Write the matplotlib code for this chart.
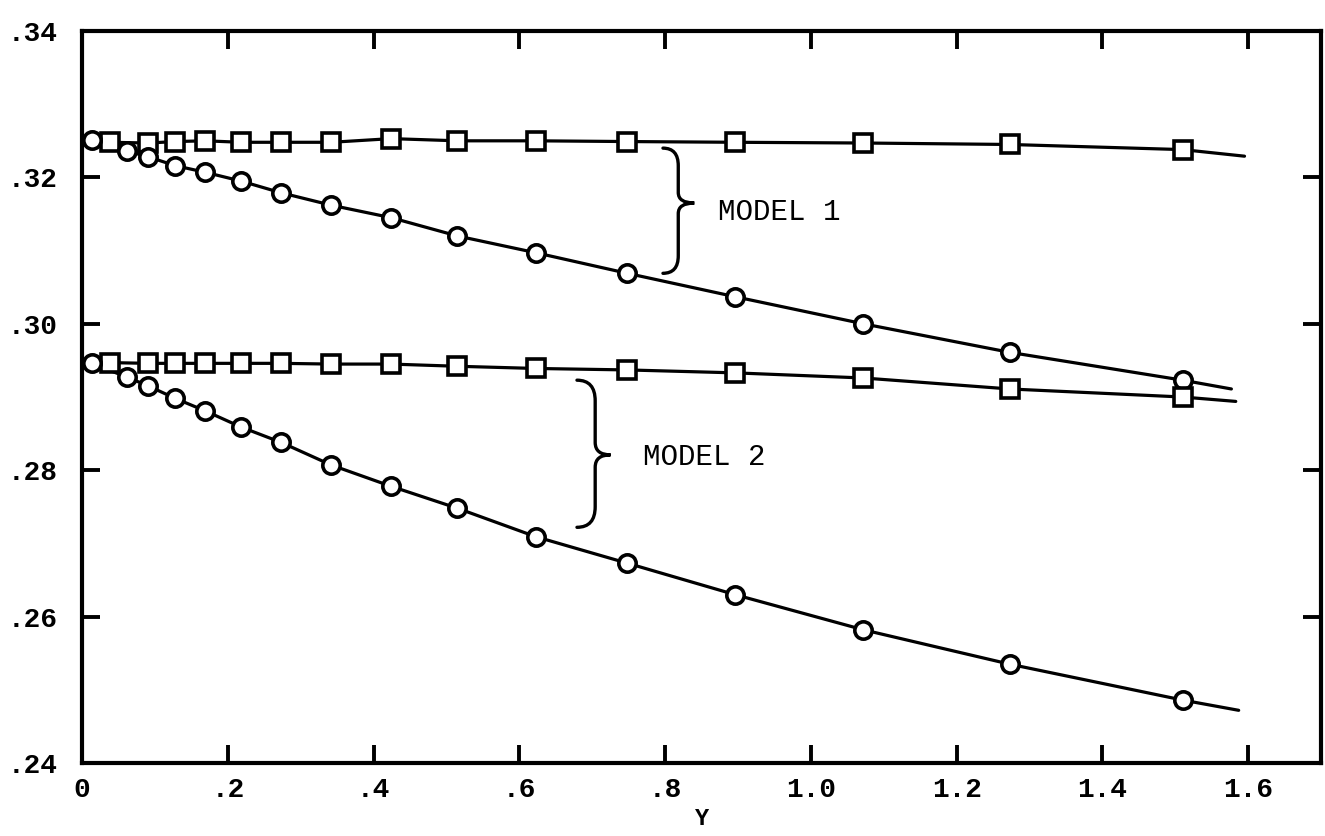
import matplotlib.pyplot as plt
from matplotlib.path import Path
from matplotlib.patches import PathPatch

# model 1
m1_circ_x = [0.013, 0.062, 0.091, 0.128, 0.169, 0.218, 0.273, 0.342, 0.424,
             0.515, 0.623, 0.748, 0.896, 1.072, 1.273, 1.510]
m1_circ = [.3251, .3236, .3228, .3216, .3207, .3195, .3179, .3162, .3145,
           .3120, .3097, .3069, .3037, .3000, .2961, .2923]
m1_circ_end = (1.577, .2911)

m1_sq_x = [0.038, 0.091, 0.128, 0.169, 0.218, 0.273, 0.342, 0.424, 0.515,
           0.623, 0.748, 0.896, 1.072, 1.273, 1.510]
m1_sq = [.3248, .3247, .3249, .3250, .3248, .3248, .3248, .3253, .3250,
         .3250, .3249, .3248, .3247, .3245, .3238]
m1_sq_end = (1.595, .3229)

# model 2
m2_circ_x = m1_circ_x
m2_circ = [.2946, .2927, .2915, .2898, .2881, .2859, .2838, .2807, .2778,
           .2748, .2709, .2673, .2630, .2582, .2535, .2486]
m2_circ_end = (1.587, .2472)

m2_sq_x = m1_sq_x
m2_sq = [.2947, .2946, .2946, .2946, .2946, .2946, .2945, .2945, .2942,
         .2939, .2937, .2933, .2926, .2911, .2900]
m2_sq_end = (1.583, .2894)

xticks = [0, .2, .4, .6, .8, 1.0, 1.2, 1.4, 1.6]
xtick_labels = ["0", ".2", ".4", ".6", ".8", "1.0", "1.2", "1.4", "1.6"]
yticks = [.24, .26, .28, .30, .32, .34]
ytick_labels = [".24", ".26", ".28", ".30", ".32", ".34"]

FONT = "Liberation Mono"

fig = plt.figure(figsize=(13.25, 8.36), dpi=100)
ax = fig.add_axes([0.062, 0.0873, 0.935, 0.8756])


def curve(xs, ys, end, marker, ms):
    ax.plot(list(xs) + [end[0]], list(ys) + [end[1]], color="black", lw=2.3,
            zorder=2, solid_capstyle="round")
    ax.plot(xs, ys, ls="none", marker=marker, ms=ms, mfc="white",
            mec="black", mew=2.6, zorder=3)


curve(m1_sq_x, m1_sq, m1_sq_end, "s", 12.5)
curve(m1_circ_x, m1_circ, m1_circ_end, "o", 12.5)
curve(m2_sq_x, m2_sq, m2_sq_end, "s", 12.5)
curve(m2_circ_x, m2_circ, m2_circ_end, "o", 12.5)


def brace(x_left, x_mid, x_tip, y_top, y_tip, y_bot):
    d = (y_top - y_bot) * 0.14
    verts = [(x_left, y_top), (x_mid, y_top), (x_mid, y_top - d),
             (x_mid, y_tip + d * 0.6), (x_mid, y_tip), (x_tip, y_tip),
             (x_mid, y_tip), (x_mid, y_tip - d * 0.6),
             (x_mid, y_bot + d), (x_mid, y_bot), (x_left, y_bot)]
    codes = [Path.MOVETO, Path.CURVE3, Path.CURVE3,
             Path.LINETO, Path.CURVE3, Path.CURVE3,
             Path.CURVE3, Path.CURVE3,
             Path.LINETO, Path.CURVE3, Path.CURVE3]
    ax.add_patch(PathPatch(Path(verts, codes), fill=False, lw=2.4,
                           edgecolor="black", capstyle="round"))


brace(0.797, 0.818, 0.840, .3240, .3165, .3069)
brace(0.679, 0.704, 0.725, .2923, .2821, .2722)

ax.text(0.872, .3153, "MODEL 1", family=FONT, fontsize=21, va="center")
ax.text(0.770, .2818, "MODEL 2", family=FONT, fontsize=21, va="center")

ax.set_xlim(0, 1.70)
ax.set_ylim(.24, .34)
ax.set_xticks(xticks)
ax.set_xticklabels(xtick_labels)
ax.set_yticks(yticks)
ax.set_yticklabels(ytick_labels)
ax.tick_params(direction="in", length=13, width=2.8, top=True, right=True,
               labelsize=20)
ax.tick_params(axis="x", pad=10)
ax.tick_params(axis="y", pad=18)
for lab in ax.get_xticklabels() + ax.get_yticklabels():
    lab.set_family(FONT)
    lab.set_fontweight("bold")
for s in ax.spines.values():
    s.set_linewidth(3)
ax.set_xlabel("Y", family=FONT, fontsize=17, fontweight="bold", labelpad=3)

fig.savefig("out.png", dpi=100)
